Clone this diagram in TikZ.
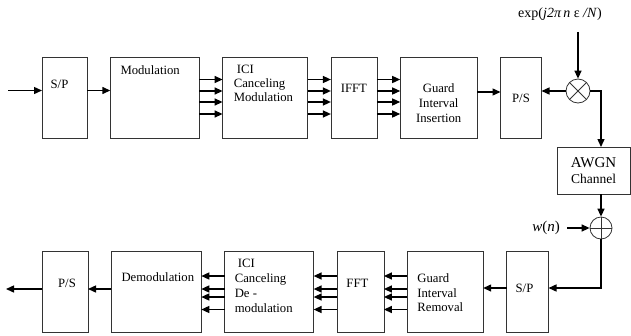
\documentclass[tikz,border=0pt]{standalone}
\usepackage{fontspec}
\setmainfont{Liberation Serif}
\usetikzlibrary{positioning, arrows.meta}

\begin{document}
\begin{tikzpicture}[
    x=1pt, y=-1pt,
    node distance = 23.3pt,
    box/.style  = {rectangle, draw=black!80, line width=0.8pt,
                   minimum height=81pt, inner sep=0pt, outer sep=0pt},
    tag/.style  = {font=\fontsize{12.7}{14}\selectfont, align=left, inner sep=0pt},
    arr/.style  = {-{Triangle[length=8pt, width=7pt]}, line width=1.4pt, black},
    mixer/.style = {circle, draw=black!80, line width=0.8pt, minimum size=24pt, inner sep=0pt,
                    path picture={\draw[line width=0.8pt]
                      (path picture bounding box.north west) -- (path picture bounding box.south east)
                      (path picture bounding box.north east) -- (path picture bounding box.south west);}},
    adder/.style = {circle, draw=black!80, line width=0.8pt, minimum size=22pt, inner sep=0pt,
                    path picture={\draw[line width=0.8pt]
                      (path picture bounding box.north) -- (path picture bounding box.south)
                      (path picture bounding box.west) -- (path picture bounding box.east);}}
]
\useasboundingbox (0,0) rectangle (631,335);

% Transmitter row
\node[box, minimum width=45pt, label={[tag, xshift=-5pt, yshift=13pt]center:S/P}] (sp) at (64.5,97.5) {};
\node[box, minimum width=89pt, right=of sp,
      label={[tag, anchor=north west, xshift=10pt, yshift=-8pt]north west:Modulation}] (mod) {};
\node[box, minimum width=85pt, right=of mod,
      label={[tag, anchor=north west, xshift=11pt, yshift=-8pt]north west:\hspace{3pt}ICI\\Canceling\\Modulation}] (ici) {};
\node[box, minimum width=46pt, right=of ici, label={[tag, yshift=9pt]center:IFFT}] (ifft) {};
\node[box, minimum width=77pt, right=of ifft,
      label={[tag, align=center, font=\fontsize{12.7}{15}\selectfont, yshift=-6pt]center:Guard\\Interval\\Insertion}] (gin) {};
\node[box, minimum width=41pt, right=of gin, label={[tag, yshift=-1pt]center:P/S}] (ps) {};

% Channel
\node[mixer] (mul) at (578,91) {};
\node[font=\fontsize{14}{16}\selectfont] (expo) at (560,14) {exp(\textit{j2π\,n} ε \textit{/N})};
\node[box, minimum width=73pt, minimum height=47pt, align=center,
      font=\fontsize{15}{16}\selectfont] (awgn) at (593.5,170.5)
      {AWGN\\{\fontsize{13.5}{16}\selectfont Channel}};
\node[adder] (add) at (601,228) {};
\node[font=\fontsize{15}{16}\selectfont] (wn) at (546,228) {\textit{w}(\textit{n})};

% Receiver row
\node[box, minimum width=46pt, label={[tag, xshift=2pt, yshift=9pt]center:P/S}] (ps2) at (65,292) {};
\node[box, minimum width=90pt, right=of ps2,
      label={[tag, anchor=north west, xshift=10pt, yshift=-21pt]north west:Demodulation}] (demod) {};
\node[box, minimum width=89pt, right=of demod,
      label={[tag, font=\fontsize{12.7}{15}\selectfont, anchor=north west, xshift=10pt, yshift=-7.5pt]north west:\hspace{3pt}ICI\\Canceling\\De -\\modulation}] (ici2) {};
\node[box, minimum width=47pt, right=of ici2, label={[tag, xshift=-3pt, yshift=9pt]center:FFT}] (fft) {};
\node[box, minimum width=76pt, right=of fft,
      label={[tag, font=\fontsize{12.7}{14.5}\selectfont, anchor=north west, xshift=10pt, yshift=-22pt]north west:Guard\\Interval\\Removal}] (grm) {};
\node[box, minimum width=42pt, right=of grm, label={[tag, xshift=-3pt, yshift=4pt]center:S/P}] (sp2) {};

\coordinate (in)  at (8,90.5);
\coordinate (out) at (6,289);

% Transmitter arrows
\draw[arr] (in) -- (in -| sp.west);
\draw[arr] ([yshift=7pt]sp.east) -- ([yshift=7pt]mod.west);
\foreach \dy in {18,6.5,-4.5,-16.5} {
  \draw[arr] ([yshift=\dy pt]mod.east)  -- ([yshift=\dy pt]ici.west);
  \draw[arr] ([yshift=\dy pt]ici.east)  -- ([yshift=\dy pt]ifft.west);
  \draw[arr] ([yshift=\dy pt]ifft.east) -- ([yshift=\dy pt]gin.west);
}
\draw[arr] ([yshift=5.5pt]gin.east) -- ([yshift=5.5pt]ps.west);

% Channel arrows
\draw[arr] ([yshift=-8pt]expo.south -| mul.north) -- (mul);
\draw[arr] (mul.west) -- (mul.west -| ps.east);
\draw[arr] (mul.east) -| ([xshift=7.5pt]awgn.north);
\draw[arr] (awgn.south -| add) -- (add);
\draw[arr] ([xshift=4pt]wn.east) -- (add);
\draw[arr] (add.south) |- ([yshift=4pt]sp2.east);

% Receiver arrows
\draw[arr] ([yshift=4pt]sp2.west) -- ([yshift=4pt]grm.east);
\foreach \dy in {16,3,-5,-17.5} {
  \draw[arr] ([yshift=\dy pt]grm.west)  -- ([yshift=\dy pt]fft.east);
  \draw[arr] ([yshift=\dy pt]fft.west)  -- ([yshift=\dy pt]ici2.east);
  \draw[arr] ([yshift=\dy pt]ici2.west) -- ([yshift=\dy pt]demod.east);
}
\draw[arr] ([yshift=3pt]demod.west) -- ([yshift=3pt]ps2.east);
\draw[arr] ([yshift=3pt]ps2.west) -- (out);
\end{tikzpicture}
\end{document}
